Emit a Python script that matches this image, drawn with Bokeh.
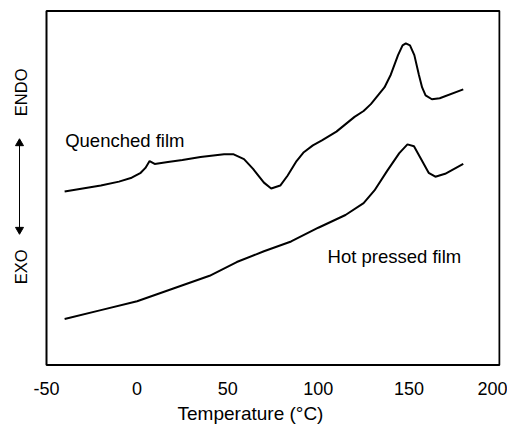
import math
from bokeh.plotting import figure
from bokeh.models import FixedTicker
from bokeh.core.properties import value
from bokeh.embed import file_html
from bokeh.resources import INLINE

# Quenched film DSC trace (temperature °C, relative heat flow a.u.)
quenched_t = [-40, -30, -20, -10, -3, 2, 4.6, 6.9, 9.7, 17, 25, 35, 48, 53, 59, 64,
              70, 74, 79, 83, 88, 92, 97, 102, 110, 120, 125, 129, 136.5, 140, 144,
              146.5, 148.3, 150.6, 153, 155.5, 157.3, 159.2, 162.7, 167, 180]
quenched_hf = [177, 180, 183, 187, 191, 196, 201, 208, 205, 207, 209, 212, 215, 215,
               210, 200, 186, 180, 183, 193, 208, 217, 224, 229, 238, 253, 259, 266,
               283, 296, 316, 326, 328, 326, 316, 296, 283, 275, 271, 272, 281]

# Hot pressed film DSC trace
hot_t = [-40, -20, 0, 20, 40, 55, 70, 85, 100, 115, 125, 131, 138, 144.7, 149.2,
         152.8, 156.4, 160.9, 164.6, 170, 180]
hot_hf = [47, 56, 65, 78, 91, 105, 116, 126, 140, 153, 165, 178, 198, 216, 225,
          223, 211, 196, 192, 195, 205]

x_ticks = [-50, 0, 50, 100, 150, 200]
x_limits = (-50, 200)
y_limits = (0, 361)

FONT = "Liberation Sans"

# layout: the drawn plot box spans x_limits; the frame extends further left
# to hold the ENDO / EXO indicator
W, H = 507, 426
BORDER_R = 7
box_left_px = 46
box_right_px = W - BORDER_R - 1
ppu = (box_right_px - box_left_px) / (x_limits[1] - x_limits[0])
xr = (x_limits[0] - box_left_px / ppu, x_limits[1] + 1 / ppu)
y_pad = 1.5

p = figure(width=W, height=H, x_range=xr,
           y_range=(y_limits[0] - y_pad, y_limits[1] + y_pad),
           output_backend="svg", toolbar_location=None,
           y_axis_location=None,
           min_border_left=0, min_border_right=BORDER_R, min_border_top=9,
           min_border_bottom=0)

p.xgrid.visible = False
p.ygrid.visible = False
p.outline_line_color = None
p.background_fill_color = "white"
p.border_fill_color = "white"

xa = p.xaxis[0]
xa.ticker = FixedTicker(ticks=x_ticks)
xa.major_label_overrides = {t: str(t) for t in x_ticks}
xa.axis_line_color = None
xa.major_tick_line_color = None
xa.minor_tick_line_color = None
xa.major_label_text_font = FONT
xa.major_label_text_font_size = "18px"
xa.major_label_text_color = "black"
xa.major_label_standoff = 9
xa.axis_label = "Temperature (°C)"
xa.axis_label_text_font = FONT
xa.axis_label_text_font_size = "19px"
xa.axis_label_text_font_style = "normal"
xa.axis_label_text_color = "black"
xa.axis_label_standoff = 5

# plot box
p.quad(left=[x_limits[0]], right=[x_limits[1]], bottom=[y_limits[0]], top=[y_limits[1]],
       fill_color=None, line_color="black", line_width=2)

p.line(quenched_t, quenched_hf, line_color="black", line_width=2)
p.line(hot_t, hot_hf, line_color="black", line_width=2)

p.text(x=[-39.7], y=[229], text=["Quenched film"], text_font=value(FONT),
       text_font_size="18.5px", text_color="black", text_baseline="alphabetic")
p.text(x=[105.1], y=[111], text=["Hot pressed film"], text_font=value(FONT),
       text_font_size="18.5px", text_color="black", text_baseline="alphabetic")

# ENDO / EXO indicator (left of the box)
ind_x = xr[0] + 20.5 / ppu
arr_x = xr[0] + 19 / ppu
p.text(x=[ind_x, ind_x], y=[278, 100], text=["ENDO", "EXO"], angle=math.pi / 2,
       text_font=value(FONT), text_font_size="16.5px", text_color="black",
       text_align="center", text_baseline="middle")
p.segment(x0=[arr_x], y0=[136], x1=[arr_x], y1=[228],
          line_color="black", line_width=1)
p.scatter(x=[arr_x], y=[226], marker="triangle", size=8,
          fill_color="black", line_color="black")
p.scatter(x=[arr_x], y=[138], marker="inverted_triangle", size=8,
          fill_color="black", line_color="black")

open("out.html", "w").write(file_html(p, INLINE))
